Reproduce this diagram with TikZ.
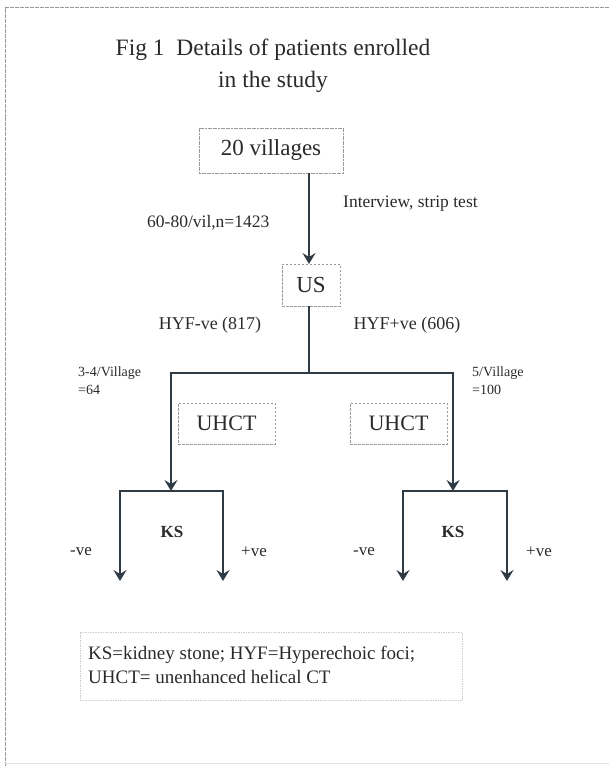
\documentclass[tikz,border=0pt]{standalone}
\usepackage{fontspec}
\setmainfont{Liberation Serif}
\usetikzlibrary{arrows.meta}
\definecolor{ln}{HTML}{2E3A44}
\definecolor{tx}{HTML}{2A2A2A}
\definecolor{fr}{HTML}{9A9A9A}
\tikzset{
  dbox/.style={draw=fr, line width=0.8pt, dash pattern=on 2.5pt off 1.5pt, inner sep=0pt, text=tx},
  conn/.style={draw=ln, line width=2.6pt},
  arr/.style={conn, -{Stealth[length=11pt,width=13pt,inset=4pt]}},
  lbl/.style={text=tx, inner sep=0pt},
}
\begin{document}
\begin{tikzpicture}[x=1pt,y=-1pt]
\useasboundingbox (0,0) rectangle (609,768);
% outer frame
\draw[fr, line width=1pt, dash pattern=on 2pt off 0.5pt] (609,8) -- (5,8) -- (5,766);
\draw[yellow!20!gray!30, line width=1pt] (5,763) -- (609,763);
% title
\node[lbl, font=\fontsize{23.5}{32}\selectfont, align=center] (title) at (273,66) {Fig 1\ \ Details of patients enrolled\\in the study};
% top box
\node[dbox, draw=fr, dash pattern=on 2pt off 0.6pt, minimum width=144pt, minimum height=45pt, font=\fontsize{23}{26}\selectfont] (vill) at (271,150.5) {20 villages};
% US box
\node[dbox, minimum width=58pt, minimum height=42pt, font=\fontsize{23}{26}\selectfont] (us) at (311,285) {US};
\coordinate (vtop) at (309,173);
\coordinate (vus) at (309,264);
\draw[arr] (vtop) -- (vus);
\node[lbl, font=\fontsize{17.5}{20}\selectfont, anchor=west] (intv) at (343,204) {Interview, strip test};
\node[lbl, font=\fontsize{17.5}{20}\selectfont, anchor=west] (n1423) at (147,223) {60-80/vil,n=1423};
% split
\coordinate (usb) at (309,306);
\coordinate (bar) at (309,373);
\coordinate (barL) at (171,373);
\coordinate (barR) at (453,373);
\draw[conn] (usb) -- (bar);
\draw[conn, line cap=rect] (barL) -- (barR);
\node[lbl, font=\fontsize{18}{20}\selectfont] (hneg) at (210,325) {HYF-ve (817)};
\node[lbl, font=\fontsize{18}{20}\selectfont] (hpos) at (407,325) {HYF+ve (606)};
\node[lbl, font=\fontsize{14}{18}\selectfont, align=left, anchor=north west] (v34) at (78,367) {3-4/Village\\=64};
\node[lbl, font=\fontsize{14}{18}\selectfont, align=left, anchor=north west] (v5) at (472,367) {5/Village\\=100};
% UHCT boxes
\node[dbox, minimum width=97pt, minimum height=41pt, font=\fontsize{22}{26}\selectfont] (uhL) at (226.5,423.5) {UHCT};
\node[dbox, minimum width=97pt, minimum height=41pt, font=\fontsize{22}{26}\selectfont] (uhR) at (398.5,423.5) {UHCT};
\coordinate (tL) at (171,491);
\coordinate (tR) at (453,491);
\draw[arr] (barL) -- (tL);
\draw[arr] (barR) -- (tR);
% left KS split
\coordinate (l1) at (120,491);
\coordinate (l2) at (223,491);
\coordinate (l1e) at (120,581);
\coordinate (l2e) at (223,581);
\draw[conn, line cap=rect] (l1) -- (l2);
\draw[arr] (l1) -- (l1e);
\draw[arr] (l2) -- (l2e);
% right KS split
\coordinate (r1) at (403,491);
\coordinate (r2) at (507,491);
\coordinate (r1e) at (403,581);
\coordinate (r2e) at (507,581);
\draw[conn, line cap=rect] (r1) -- (r2);
\draw[arr] (r1) -- (r1e);
\draw[arr] (r2) -- (r2e);
\node[lbl, font=\fontsize{17}{20}\selectfont\bfseries] (ksL) at (172,532) {KS};
\node[lbl, font=\fontsize{17}{20}\selectfont\bfseries] (ksR) at (453,532) {KS};
\node[lbl, font=\fontsize{17}{20}\selectfont] (nL) at (81,552) {-ve};
\node[lbl, font=\fontsize{17}{20}\selectfont] (pL) at (254,552) {+ve};
\node[lbl, font=\fontsize{17}{20}\selectfont] (nR) at (364,552) {-ve};
\node[lbl, font=\fontsize{17}{20}\selectfont] (pR) at (539,552) {+ve};
% legend
\node[draw=fr!50, line width=0.6pt, dash pattern=on 1.5pt off 1pt, minimum width=382pt, minimum height=68pt, text=tx] (leg) at (271,666) {};
\node[lbl, font=\fontsize{19}{24}\selectfont, align=left, anchor=west] (legt) at (88,665) {KS=kidney stone; HYF=Hyperechoic foci;\\UHCT= unenhanced helical CT};
\end{tikzpicture}
\end{document}
